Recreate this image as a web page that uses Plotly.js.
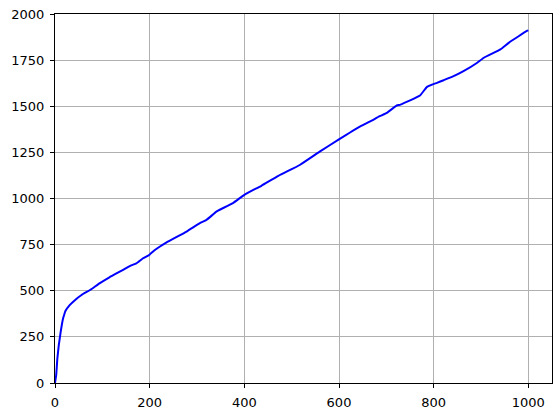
<!DOCTYPE html>
<html>
<head>
<meta charset="utf-8">
<script src="https://cdn.plot.ly/plotly-3.0.1.min.js"></script>
<style>
  html, body { margin: 0; padding: 0; background: #fff; }
  #chart { width: 560px; height: 417px; }
</style>
</head>
<body>
<div id="chart"></div>
<script>
// values
const xValues = [0, 2.5, 5, 8, 12, 17, 20, 22, 31, 42, 56, 74, 94, 115, 143, 158, 172, 186, 199, 211, 235, 278, 306, 320, 341, 348, 376, 400, 436, 472, 518, 560, 599, 645, 666, 686, 701, 722, 730, 771, 786, 807, 821, 842, 863, 892, 906, 941, 959, 997, 1000];
const yValues = [0, 42, 133, 205, 277, 350, 375, 390, 422, 449, 477, 504, 540, 573, 612, 634, 649, 676, 694, 721, 761, 821, 866, 884, 929, 939, 975, 1020, 1069, 1123, 1183, 1255, 1319, 1391, 1418, 1446, 1464, 1504, 1509, 1558, 1605, 1627, 1641, 1663, 1690, 1736, 1763, 1808, 1845, 1908, 1911];
const xTicks = [0, 200, 400, 600, 800, 1000];
const yTicks = [0, 250, 500, 750, 1000, 1250, 1500, 1750, 2000];

const trace = {
    x: xValues,
    y: yValues,
    type: "scatter",
    mode: "lines",
    line: { color: "#0000ff", width: 2, shape: "spline", smoothing: 0.4 },
    hoverinfo: "skip"
};

const axisBase = {
    showgrid: true,
    gridcolor: "#b0b0b0",
    gridwidth: 1,
    zeroline: false,
    showline: true,
    linecolor: "#000",
    linewidth: 1,
    mirror: true,
    ticks: "outside",
    ticklen: 4,
    tickcolor: "#000",
    ticklabelstandoff: 3,
    tickfont: { family: "DejaVu Sans", size: 13, color: "#000" }
};

const layout = {
    width: 560,
    height: 417,
    margin: { l: 55, r: 8, t: 14, b: 34 },
    paper_bgcolor: "#fff",
    plot_bgcolor: "#fff",
    showlegend: false,
    xaxis: Object.assign({}, axisBase, {
        range: [0, 1050],
        tickvals: xTicks,
        ticktext: xTicks.map(String)
    }),
    yaxis: Object.assign({}, axisBase, {
        range: [0, 2000],
        tickvals: yTicks,
        ticktext: yTicks.map(String)
    })
};

Plotly.newPlot("chart", [trace], layout, { displayModeBar: false, staticPlot: true });
</script>
</body>
</html>
